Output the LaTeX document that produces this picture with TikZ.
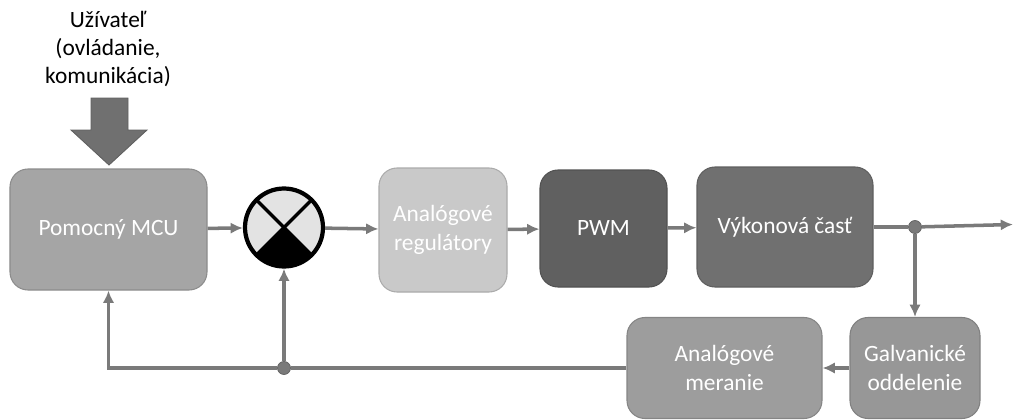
\documentclass[tikz,border=0pt]{standalone}
\usepackage{fontspec}
\setmainfont{Carlito}
\usetikzlibrary{positioning,arrows.meta}

\definecolor{linegray}{HTML}{7A7A7A}
\definecolor{mcugray}{HTML}{A5A5A5}
\definecolor{reggray}{HTML}{C9C9C9}
\definecolor{pwmgray}{HTML}{606060}
\definecolor{powgray}{HTML}{707070}
\definecolor{galvgray}{HTML}{979797}
\definecolor{measgray}{HTML}{9D9D9D}
\definecolor{sumgray}{HTML}{E3E3E3}

\tikzset{
    blok/.style={draw=#1!85!black, fill=#1, rounded corners=0.36cm, text=white,
        align=center, inner sep=2pt, font=\fontsize{13.3}{16.2}\selectfont, line width=0.6pt},
    spoj/.style={draw=linegray, line width=2pt},
    bod/.style={circle, fill=linegray, draw=linegray!80!black, minimum size=0.26cm, inner sep=0pt}
}

\begin{document}
\begin{tikzpicture}[>={Latex[length=7pt,width=6.5pt]}]
    \useasboundingbox (0,0) rectangle (20.28,-8.4);

    % pouzivatel a hruba sipka
    \node[align=center, font=\fontsize{13.3}{16.2}\selectfont] (user) at (2.16,-0.98)
        {Užívateľ\\(ovládanie,\\komunikácia)};
    \fill[powgray, draw=powgray!85!black, line width=0.5pt]
        (1.82,-1.96) -- (2.56,-1.96) -- (2.56,-2.6) -- (2.94,-2.6)
        -- (2.18,-3.3) -- (1.42,-2.6) -- (1.82,-2.6) -- cycle;

    % bloky hornej vetvy
    \node[blok=mcugray, minimum width=3.94cm, minimum height=2.42cm] (mcu) at (2.17,-4.59) {Pomocný MCU};
    \node[circle, draw=black, line width=2.4pt, fill=sumgray, minimum size=1.56cm, inner sep=0pt,
        path picture={
            \fill[black] (path picture bounding box.center) -- ++(-135:1cm) arc[start angle=-135, end angle=-45, radius=1cm] -- cycle;
            \draw[black, line width=2pt] (path picture bounding box.center) ++(45:1cm) -- ++(225:2cm);
            \draw[black, line width=2pt] (path picture bounding box.center) ++(135:1cm) -- ++(-45:2cm);
        }] (sum) at (5.68,-4.55) {};
    \node[blok=reggray, minimum width=2.56cm, minimum height=2.48cm] (reg) at (8.86,-4.6) {Analógové\\regulátory};
    \node[blok=pwmgray, minimum width=2.54cm, minimum height=2.34cm] (pwm) at (12.07,-4.57) {PWM};
    \node[blok=powgray, minimum width=3.52cm, minimum height=2.4cm] (pow) at (15.7,-4.54) {Výkonová časť};

    % spatna vazba
    \node[blok=galvgray, minimum width=2.6cm, minimum height=2.02cm] (galv) at (18.3,-7.36) {Galvanické\\oddelenie};
    \node[blok=measgray, minimum width=3.9cm, minimum height=2.02cm] (meas) at (14.49,-7.36) {Analógové\\meranie};

    \node[bod] (out) at (galv |- pow) {};
    \coordinate (end) at (20.26,-4.49);
    \node[bod] (fb) at (sum |- meas) {};

    % spoje
    \draw[spoj, ->] (mcu) -- (sum);
    \draw[spoj, ->] (sum) -- (reg);
    \draw[spoj, ->] (reg) -- (pwm);
    \draw[spoj, ->] (pwm) -- (pow);
    \draw[spoj] (pow) -- (out);
    \draw[spoj, ->] (out) -- (end);
    \draw[spoj, ->] (out) -- (galv);
    \draw[spoj, ->] (galv) -- (meas);
    \draw[spoj] (meas) -- (fb);
    \draw[spoj, ->] (fb) -- (sum);
    \draw[spoj, ->] (fb) -| (mcu);
\end{tikzpicture}
\end{document}
